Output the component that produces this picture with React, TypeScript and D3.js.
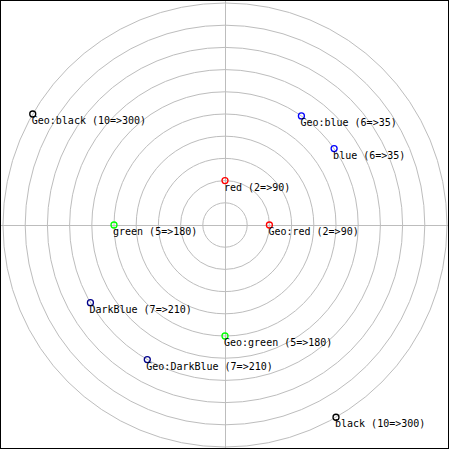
import React from "react";
import * as d3 from "d3";

// each point: radius and angle, drawn once in math (counter-clockwise from east)
// and once in geo (clockwise from north) orientation
const names = ["red", "blue", "green", "DarkBlue", "black"];
const colors = ["#ff0000", "#0000ff", "#00ff00", "#00008b", "#000000"];
const radii = [2, 6, 5, 7, 10];
const angles = [90, 35, 180, 210, 300];
const gridRadii = [1, 2, 3, 4, 5, 6, 7, 8, 9, 10];

const W = 450;
const H = 450;
const cx = 225;
const cy = 225;

const App = () => {
  const r = d3.scaleLinear().domain([0, 10]).range([0, 222]);

  const points = [];
  names.forEach((name, i) => {
    const rad = (angles[i] * Math.PI) / 180;
    const d = r(radii[i]);
    points.push({
      label: `${name} (${radii[i]}=>${angles[i]})`,
      color: colors[i],
      x: cx + d * Math.cos(rad),
      y: cy - d * Math.sin(rad),
    });
    points.push({
      label: `Geo:${name} (${radii[i]}=>${angles[i]})`,
      color: colors[i],
      x: cx + d * Math.sin(rad),
      y: cy - d * Math.cos(rad),
    });
  });

  return (
    <div style={{ position: "fixed", left: 0, top: 0 }}>
      <svg width={W} height={H} style={{ display: "block", background: "#fff" }}>
        <defs>
          <clipPath id="plot">
            <rect x={1} y={1} width={447} height={447} />
          </clipPath>
        </defs>
        <g clipPath="url(#plot)" stroke="#bdbdbd" fill="none">
          {gridRadii.map((g) => (
            <circle key={g} cx={cx} cy={cy} r={r(g)} strokeWidth={1} />
          ))}
          <line x1={0} x2={W} y1={cy + 0.5} y2={cy + 0.5} />
          <line x1={cx + 0.5} x2={cx + 0.5} y1={0} y2={H} />
        </g>
        <rect x={0.5} y={0.5} width={448} height={448} fill="none" stroke="#000" />
        {points.map((p, i) => (
          <g key={i}>
            <circle
              cx={p.x}
              cy={p.y}
              r={3}
              fill="none"
              stroke={p.color}
              strokeWidth={1.3}
            />
            <text
              x={p.x - 1}
              y={p.y + 10}
              fontFamily="DejaVu Sans Mono"
              fontSize={10}
              fill="#000"
            >
              {p.label}
            </text>
          </g>
        ))}
      </svg>
    </div>
  );
};

export default App;
